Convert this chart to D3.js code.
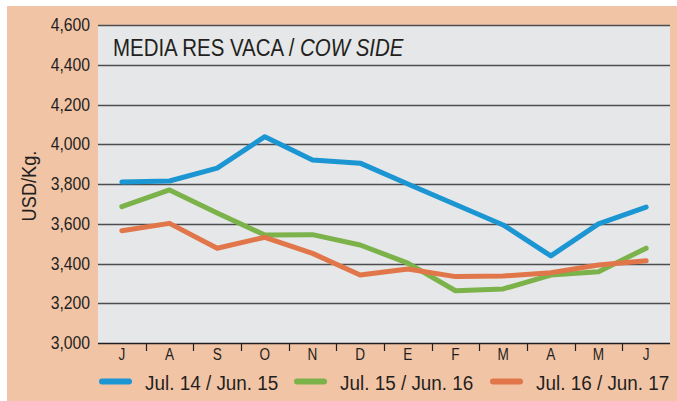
<!DOCTYPE html>
<html>
<head>
<meta charset="utf-8">
<script src="https://cdn.jsdelivr.net/npm/d3@7"></script>
<style>
  html, body { margin: 0; padding: 0; background: #ffffff; }
  svg { display: block; }
  text { font-family: "Liberation Sans", Arial, sans-serif; fill: #231f20; }
</style>
</head>
<body>
<svg id="chart" width="677" height="401"></svg>
<script>
// Monthly price of cow side (USD/Kg), July through June
const months = ["J", "A", "S", "O", "N", "D", "E", "F", "M", "A", "M", "J"];
const seriesNames = ["Jul. 14 / Jun. 15", "Jul. 15 / Jun. 16", "Jul. 16 / Jun. 17"];
const season1415 = [3810, 3815, 3880, 4038, 3921, 3905, 3800, 3697, 3594, 3438, 3599, 3684];
const season1516 = [3686, 3770, 3654, 3543, 3545, 3493, 3402, 3263, 3272, 3342, 3359, 3477];
const season1617 = [3565, 3602, 3477, 3532, 3451, 3342, 3372, 3334, 3337, 3354, 3392, 3414];
const yTicks = [3000, 3200, 3400, 3600, 3800, 4000, 4200, 4400, 4600];
const colors = ["#1b96d3", "#7cb24a", "#e07649"];

const svg = d3.select("#chart");
const W = 677, H = 401;
const margin = { left: 98, right: 7, top: 25, bottom: 58 };
const plotW = W - margin.left - margin.right;
const plotH = H - margin.top - margin.bottom;

// Peach frame
svg.append("rect").attr("x", 7).attr("y", 6).attr("width", W - 7).attr("height", H - 6)
  .attr("fill", "#f2c4a6");

const g = svg.append("g").attr("transform", `translate(${margin.left},${margin.top})`);

const x = d3.scaleBand().domain(d3.range(months.length)).range([0, plotW]).padding(0);
const y = d3.scaleLinear().domain([3000, 4600]).range([plotH, 0]);

// Plot background
g.append("rect").attr("width", plotW).attr("height", plotH).attr("fill", "#e6e7e8");

// Horizontal gridlines
g.append("g").selectAll("line").data(yTicks.filter(v => v > 3000)).join("line")
  .attr("x1", 0).attr("x2", plotW)
  .attr("y1", d => Math.round(y(d)) + 0.5).attr("y2", d => Math.round(y(d)) + 0.5)
  .attr("stroke", "#4d4d4f").attr("stroke-width", 1.3);

// Helper for horizontally condensed text
function condText(sel, tx, ty, sx, anchor, size, txt) {
  return sel.append("text")
    .attr("transform", `translate(${tx},${ty}) scale(${sx},1)`)
    .attr("text-anchor", anchor).style("font-size", size + "px").text(txt);
}

// Y axis tick labels
const fmt = d3.format(",");
yTicks.forEach(v => {
  condText(g, -8, y(v) + 6, 0.9, "end", 17.5, fmt(v));
});

// Y axis title
svg.append("text")
  .attr("transform", "translate(36,186) rotate(-90) scale(0.91,1)")
  .attr("text-anchor", "middle").style("font-size", "20px").text("USD/Kg.");

// Bottom axis with ticks between months
const xAxis = g.append("g").attr("transform", `translate(0,${plotH})`);
xAxis.append("line").attr("x1", 0).attr("x2", plotW).attr("y1", 0.5).attr("y2", 0.5)
  .attr("stroke", "#231f20").attr("stroke-width", 1.3);
xAxis.selectAll("line.tick").data(d3.range(1, months.length)).join("line")
  .attr("class", "tick")
  .attr("x1", d => Math.round(x(d)) + 0.5).attr("x2", d => Math.round(x(d)) + 0.5)
  .attr("y1", 0).attr("y2", 8).attr("stroke", "#231f20").attr("stroke-width", 1.2);
months.forEach((m, i) => {
  condText(xAxis, x(i) + x.bandwidth() / 2, 16.5, 0.8, "middle", 17, m);
});

// Series lines
const line = d3.line()
  .x((d, i) => x(i) + x.bandwidth() / 2)
  .y(d => y(d));
[season1415, season1516, season1617].forEach((vals, k) => {
  g.append("path").datum(vals).attr("d", line)
    .attr("fill", "none").attr("stroke", colors[k]).attr("stroke-width", 5)
    .attr("stroke-linejoin", "round").attr("stroke-linecap", "round");
});

// Title
const title = g.append("text")
  .attr("transform", `translate(15,31) scale(0.87,1)`)
  .style("font-size", "23.5px");
title.append("tspan").text("MEDIA RES VACA / ");
title.append("tspan").style("font-style", "italic").text("COW SIDE");

// Legend
const legendX = [99, 294, 490];
const legendY = 381.5;
seriesNames.forEach((name, k) => {
  svg.append("line").attr("x1", legendX[k] + 3).attr("x2", legendX[k] + 30)
    .attr("y1", legendY).attr("y2", legendY)
    .attr("stroke", colors[k]).attr("stroke-width", 6).attr("stroke-linecap", "round");
  condText(svg, legendX[k] + 46, legendY + 8, 0.9, "start", 21, name);
});
</script>
</body>
</html>
